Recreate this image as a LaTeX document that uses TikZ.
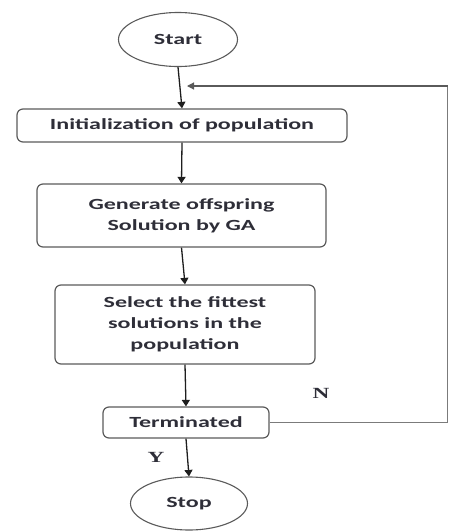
\documentclass[tikz,border=0pt]{standalone}
\usepackage{fontspec}
\usetikzlibrary{shapes.geometric,arrows.meta}
\newfontfamily\boxfont[FakeStretch=1.55]{Carlito Bold}
\newfontfamily\lblfont[FakeStretch=1.5]{Liberation Serif Bold}
\definecolor{txtc}{HTML}{2E2E38}
\definecolor{edgec}{HTML}{5A5A5A}
\definecolor{linec}{HTML}{1E1E1E}
\tikzset{
  every node/.style={text=txtc, inner sep=0pt},
  rbox/.style={draw=edgec, line width=1.2pt, rounded corners=6pt, align=center,
    font=\boxfont\fontsize{15.5}{21}\selectfont},
  oval/.style={draw=edgec, line width=1.1pt, ellipse, font=\boxfont\fontsize{15.5}{21}\selectfont},
  arr/.style={draw=linec, line width=1.3pt, -{Triangle[width=8pt,length=6.5pt]}},
  fbline/.style={draw=edgec!80, line width=1.1pt},
  yn/.style={font=\lblfont\fontsize{15.5}{17}\selectfont, text=txtc}
}
\begin{document}
\begin{tikzpicture}[x=1pt,y=1pt]
\useasboundingbox (0,0) rectangle (449,-531);
\node[oval, minimum width=119, minimum height=54] (start) at (178,-39.5) {Start};
\node[rbox, minimum width=330, minimum height=33] (init) at (182,-125.5) {Initialization of population};
\node[rbox, minimum width=289, minimum height=63] (gen) at (181.5,-215.5) {Generate offspring\\Solution by GA};
\node[rbox, minimum width=260, minimum height=79] (sel) at (185,-324.5) {Select the fittest\\solutions in the\\population};
\node[rbox, minimum width=166, minimum height=31] (term) at (186,-422.5) {Terminated};
\node[oval, minimum width=117, minimum height=53] (stop) at (189,-503.5) {Stop};
\node[yn] (N) at (321,-393) {N};
\node[yn] (Y) at (156,-457) {Y};
\coordinate (c1) at (447.5,-422.5);
\coordinate (c2) at (447.5,-86);
\coordinate (c3) at (187,-86);
\draw[arr] (start.south) -- (init.north);
\draw[arr] (init.south) -- (gen.north);
\draw[arr] (gen.south) -- (sel.north);
\draw[arr] (sel.south) -- (term.north);
\draw[arr] (term.south) -- (stop.north);
\draw[fbline] (term.east) -- (c1) -- (c2);
\draw[fbline, -{Triangle[width=7pt,length=7pt]}, draw=edgec] (c2) -- (c3);
\end{tikzpicture}
\end{document}
